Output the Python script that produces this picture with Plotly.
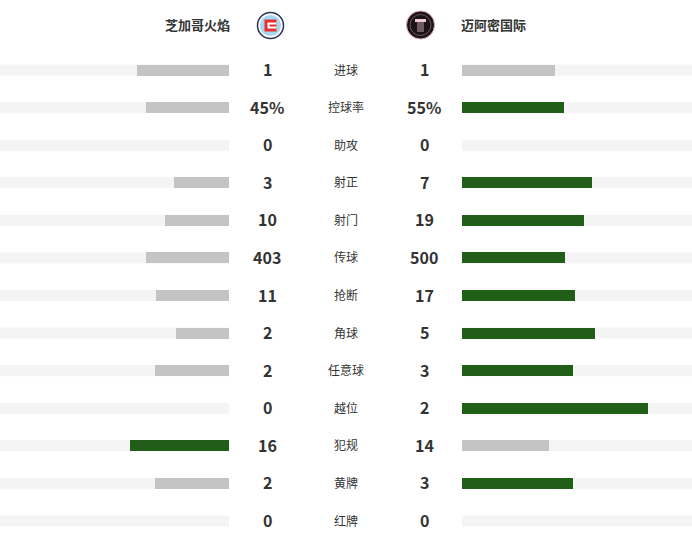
import plotly.graph_objects as go

categories = ["进球", "控球率", "助攻", "射正", "射门", "传球", "抢断", "角球", "任意球", "越位", "犯规", "黄牌", "红牌"]
home_values = [1, 45, 0, 3, 10, 403, 11, 2, 2, 0, 16, 2, 0]
away_values = [1, 55, 0, 7, 19, 500, 17, 5, 3, 2, 14, 3, 0]
value_suffix = ["", "%", "", "", "", "", "", "", "", "", "", "", ""]
home_team = "芝加哥火焰"
away_team = "迈阿密国际"

W, H = 692, 552
GREEN = "#215e18"
GREY = "#c4c4c4"
TRACK = "#f4f4f4"
ROW0, ROWSTEP = 70, 451 / 12

def share(a, b):
    return a / (a + b) if (a + b) > 0 else 0

home_share = [share(h, a) for h, a in zip(home_values, away_values)]
away_share = [share(a, h) for h, a in zip(home_values, away_values)]
home_col = [GREEN if h > a else GREY for h, a in zip(home_values, away_values)]
away_col = [GREEN if a > h else GREY for h, a in zip(home_values, away_values)]
rows = list(range(len(categories)))

xmax = 229 / 185
bar_w = 11 / ROWSTEP

fig = go.Figure()
fig.add_trace(go.Bar(y=rows, x=home_share, orientation="h", marker=dict(color=home_col, line=dict(width=0)),
                     width=bar_w, xaxis="x", yaxis="y", showlegend=False, hoverinfo="skip"))
fig.add_trace(go.Bar(y=rows, x=away_share, orientation="h", marker=dict(color=away_col, line=dict(width=0)),
                     width=bar_w, xaxis="x2", yaxis="y", showlegend=False, hoverinfo="skip"))

shapes = []
for i in rows:
    for xr in ["x domain", "x2 domain"]:
        shapes.append(dict(type="rect", xref=xr, yref="y", x0=0, x1=1, y0=i - bar_w / 2, y1=i + bar_w / 2,
                           fillcolor=TRACK, line=dict(width=0), layer="below"))

annotations = []
num_font = dict(family="Noto Sans CJK SC", size=16, color="#333333")
for i, (c, h, a, s) in enumerate(zip(categories, home_values, away_values, value_suffix)):
    annotations.append(dict(x=267 / W, xref="paper", y=i, yref="y", text=f"<b>{h}{s}</b>", showarrow=False,
                            font=num_font, xanchor="center", yanchor="middle", yshift=1))
    annotations.append(dict(x=424 / W, xref="paper", y=i, yref="y", text=f"<b>{a}{s}</b>", showarrow=False,
                            font=num_font, xanchor="center", yanchor="middle", yshift=1))
    annotations.append(dict(x=346 / W, xref="paper", y=i, yref="y", text=c, showarrow=False,
                            font=dict(family="Noto Sans CJK SC", size=12, color="#333333"),
                            xanchor="center", yanchor="middle", yshift=1))

hy = (25 - ROW0) / ROWSTEP
name_font = dict(family="Noto Sans CJK SC", size=13, color="#333333")
annotations.append(dict(x=232 / W, xref="paper", y=hy, yref="y", text=f"<b>{home_team}</b>", showarrow=False,
                        font=name_font, xanchor="right", yanchor="middle", yshift=1))
annotations.append(dict(x=459 / W, xref="paper", y=hy, yref="y", text=f"<b>{away_team}</b>", showarrow=False,
                        font=name_font, xanchor="left", yanchor="middle", yshift=1))

def circ(cx, cy, r, fill, line_col, lw=1):
    return dict(type="circle", xref="paper", yref="paper",
                x0=(cx - r) / W, x1=(cx + r) / W, y0=1 - (cy + r) / H, y1=1 - (cy - r) / H,
                fillcolor=fill, line=dict(color=line_col, width=lw))

def rect(x0, y0, x1, y1, fill):
    return dict(type="rect", xref="paper", yref="paper", x0=x0 / W, x1=x1 / W,
                y0=1 - y1 / H, y1=1 - y0 / H, fillcolor=fill, line=dict(width=0))

# Chicago logo
shapes.append(circ(270.5, 25.5, 13, "#ffffff", "#2b2f5a", 1.5))
shapes.append(circ(270.5, 25.5, 10.5, "#a3d7f2", "#a3d7f2", 0))
shapes.append(rect(264.5, 19.5, 276.5, 31.5, "#e8302f"))
shapes.append(rect(267.5, 22.5, 276.5, 28.5, "#ffffff"))
shapes.append(rect(269.5, 24.5, 276.5, 26.5, "#e8302f"))
# Miami logo
shapes.append(circ(420.5, 25, 14, "#1b1416", "#e2a8b8", 1))
shapes.append(circ(420.5, 25, 10.5, "#1b1416", "#8a6670", 0.8))
shapes.append(rect(415, 19, 426, 22, "#f0c8d4"))
shapes.append(rect(417, 22, 424, 32, "#6d5a60"))

fig.update_layout(
    width=W, height=H, margin=dict(l=0, r=0, t=0, b=0),
    paper_bgcolor="white", plot_bgcolor="white",
    barmode="overlay", bargap=0,
    xaxis=dict(domain=[0, 229 / W], range=[xmax, 0], visible=False, fixedrange=True),
    xaxis2=dict(domain=[462 / W, 1], range=[0, xmax], visible=False, fixedrange=True, anchor="y"),
    yaxis=dict(domain=[0, 1], range=[(H - ROW0) / ROWSTEP, -ROW0 / ROWSTEP], visible=False, fixedrange=True),
    shapes=shapes, annotations=annotations,
)
fig.write_html("out.html", config={"displayModeBar": False},
               post_script="document.body.style.margin='0';document.body.style.overflow='hidden';")
